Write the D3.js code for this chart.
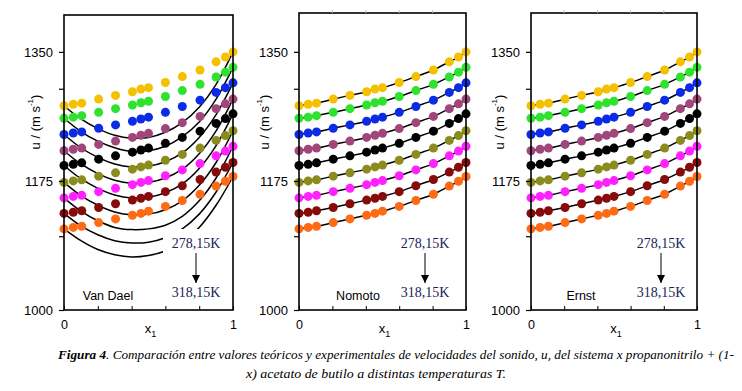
<!DOCTYPE html>
<html>
<head>
<meta charset="utf-8">
<script src="https://cdn.jsdelivr.net/npm/d3@7"></script>
<style>
  body { margin: 0; background: #fff; }
  svg { display: block; }
</style>
</head>
<body>
<div id="chart"></div>
<script>
// mole fraction x1 of the measured points
var xExp = [0, 0.055, 0.105, 0.205, 0.305, 0.405, 0.455, 0.5, 0.6, 0.7, 0.805, 0.9, 0.955, 1];

// temperatures, 278,15K (top) to 318,15K (bottom)
var temps = ["278,15", "283,15", "288,15", "293,15", "298,15", "303,15", "308,15", "313,15", "318,15"];
var colors = ["#f5c000", "#2ee22e", "#0b2be6", "#a0467a", "#000000", "#8c8c1e", "#ff22ff", "#860b0b", "#ff6a14"];

// experimental u / (m s-1)
var u278 = [1277, 1279, 1280.5, 1286, 1291, 1296, 1299.5, 1301.5, 1308.5, 1316.5, 1325.5, 1336.5, 1343, 1350];
var u283 = [1260, 1261.5, 1263.5, 1268, 1273, 1278, 1281, 1283, 1289.5, 1297.5, 1306, 1316, 1322.5, 1329];
var u288 = [1238, 1240, 1241.5, 1246.5, 1251, 1256, 1259, 1261.5, 1268, 1276, 1284.5, 1295, 1301.5, 1308];
var u293 = [1216, 1218, 1219.5, 1224.5, 1229, 1234, 1237, 1239.5, 1246, 1254, 1262.5, 1273, 1279.5, 1286];
var u298 = [1196, 1197.5, 1199.5, 1204.5, 1209, 1214, 1217, 1219.5, 1226, 1234, 1242.5, 1253, 1259.5, 1266];
var u303 = [1173, 1175, 1176.5, 1181.5, 1186, 1191, 1194, 1196.5, 1203, 1211, 1219.5, 1230, 1236.5, 1243];
var u308 = [1152, 1154, 1155.5, 1160.5, 1165, 1170, 1173, 1175.5, 1182, 1190, 1198.5, 1209, 1215.5, 1222];
var u313 = [1131, 1132.5, 1134.5, 1139, 1144, 1149, 1151.5, 1154, 1160.5, 1168.5, 1177, 1187, 1193.5, 1200];
var u318 = [1110, 1112, 1113.5, 1118.5, 1123.5, 1128.5, 1131, 1134, 1140.5, 1148.5, 1157, 1168, 1174.5, 1181];
var uExp = [u278, u283, u288, u293, u298, u303, u308, u313, u318];

// Van Dael theoretical curves
var xVD = [0, 0.1, 0.2, 0.3, 0.4, 0.5, 0.6, 0.7, 0.8, 0.9, 1];
var vd278 = [1277, 1259, 1246, 1237, 1233, 1234, 1241, 1254, 1275, 1306, 1350];
var vd283 = [1260, 1242, 1229, 1220, 1215, 1216, 1222, 1235, 1255, 1286, 1329];
var vd288 = [1238, 1220, 1207, 1198, 1194, 1195, 1201, 1213, 1234, 1265, 1308];
var vd293 = [1216, 1198, 1185, 1176, 1172, 1173, 1179, 1191, 1212, 1243, 1286];
var vd298 = [1196, 1178, 1165, 1156, 1152, 1153, 1159, 1171, 1192, 1223, 1266];
var vd303 = [1173, 1155, 1142, 1133, 1129, 1130, 1136, 1148, 1169, 1200, 1243];
var vd308 = [1152, 1134, 1121, 1112, 1109, 1110, 1115, 1127, 1148, 1179, 1222];
var vd313 = [1131, 1114, 1102, 1094, 1091, 1092, 1098, 1110, 1130, 1160, 1200];
var vd318 = [1110, 1094, 1082, 1075, 1072, 1074, 1080, 1092, 1112, 1142, 1181];
var uVD = [vd278, vd283, vd288, vd293, vd298, vd303, vd308, vd313, vd318];

var yTicks = [1000, 1100, 1175, 1300, 1350];
var yLabels = [1000, 1175, 1350];
var xTicks = [0, 0.2, 0.4, 0.6, 0.8, 1];

var panels = [
    {name: "Van Dael", left: 64, right: 233, top: 15, title: 35, nameX: 108, tempX: 196, model: "vd"},
    {name: "Nomoto", left: 299, right: 466, top: 13, title: 264, nameX: 358, tempX: 425, model: "exp"},
    {name: "Ernst", left: 531, right: 697, top: 13, title: 499, nameX: 581, tempX: 661, model: "exp"}
];

var sans = "Arial, 'Liberation Sans', sans-serif";
var serif = "'Times New Roman', 'Liberation Serif', serif";

var svg = d3.select("#chart")
    .append("svg")
    .attr("width", 742)
    .attr("height", 391);

var defs = svg.append("defs");
defs.append("marker")
    .attr("id", "arrow")
    .attr("viewBox", "0 0 10 10")
    .attr("refX", 10)
    .attr("refY", 5)
    .attr("markerWidth", 8)
    .attr("markerHeight", 8)
    .attr("markerUnits", "userSpaceOnUse")
    .attr("orient", "auto")
    .append("path")
    .attr("d", "M0,0 L10,5 L0,10 Z")
    .attr("fill", "#000");

var y = d3.scaleLinear().domain([1000, 1400]).range([310, 15]);

function drawPanel(p) {
    var x = d3.scaleLinear().domain([0, 1]).range([p.left, p.right]);
    var g = svg.append("g");

    var line = d3.line()
        .x(function (d) { return x(d[0]); })
        .y(function (d) { return y(d[1]); });

    if (p.model === "vd") {
        line.curve(d3.curveCatmullRom.alpha(0.5));
        uVD.forEach(function (s) {
            g.append("path")
                .attr("d", line(xVD.map(function (v, i) { return [v, s[i]]; })))
                .attr("fill", "none")
                .attr("stroke", "#000")
                .attr("stroke-width", 1.5);
        });
    } else {
        line.curve(d3.curveMonotoneX);
        uExp.forEach(function (s) {
            g.append("path")
                .attr("d", line(xExp.map(function (v, i) { return [v, s[i]]; })))
                .attr("fill", "none")
                .attr("stroke", "#000")
                .attr("stroke-width", 1.5);
        });
    }

    // white box behind the temperature labels
    g.append("rect")
        .attr("x", p.right - 70)
        .attr("y", 229)
        .attr("width", 70)
        .attr("height", 80)
        .attr("fill", "#fff");

    uExp.forEach(function (s, k) {
        g.selectAll(null)
            .data(xExp.map(function (v, i) { return [v, s[i]]; }))
            .enter()
            .append("circle")
            .attr("cx", function (d) { return x(d[0]); })
            .attr("cy", function (d) { return y(d[1]); })
            .attr("r", 4.5)
            .attr("fill", colors[k]);
    });

    // frame
    g.append("rect")
        .attr("x", p.left)
        .attr("y", p.top)
        .attr("width", p.right - p.left)
        .attr("height", 310 - p.top)
        .attr("fill", "none")
        .attr("stroke", "#000")
        .attr("stroke-width", 1.6);

    var yAxis = d3.axisLeft(y)
        .tickValues(yTicks)
        .tickSize(5)
        .tickSizeOuter(0)
        .tickPadding(6)
        .tickFormat(function (d) { return yLabels.indexOf(d) >= 0 ? d : ""; });

    var ya = g.append("g")
        .attr("transform", "translate(" + p.left + ",0)")
        .call(yAxis);
    ya.select(".domain").remove();
    ya.selectAll("line").attr("stroke-width", 1.2);
    ya.selectAll("text")
        .attr("font-family", sans)
        .attr("font-size", "13px")
        .attr("fill", "#000");

    var xAxis = d3.axisBottom(x)
        .tickValues(xTicks)
        .tickSize(-4)
        .tickSizeOuter(0)
        .tickPadding(10)
        .tickFormat(function (d) { return (d === 0 || d === 1) ? d : ""; });

    var xa = g.append("g")
        .attr("transform", "translate(0,310)")
        .call(xAxis);
    xa.select(".domain").remove();
    xa.selectAll("text")
        .attr("font-family", sans)
        .attr("font-size", "12.5px")
        .attr("fill", "#000");

    if (p.model !== "vd") {
        g.selectAll(null)
            .data(xTicks.slice(1, 5))
            .enter()
            .append("line")
            .attr("x1", function (d) { return x(d); })
            .attr("x2", function (d) { return x(d); })
            .attr("y1", p.top)
            .attr("y2", p.top - 3)
            .attr("stroke", "#bbb");
    }

    // axis titles
    var t = g.append("text")
        .attr("transform", "translate(" + p.title + ",122) rotate(-90)")
        .attr("text-anchor", "middle")
        .attr("dominant-baseline", "central")
        .attr("font-family", sans)
        .attr("font-size", "13px");
    t.append("tspan").text("u / (m s");
    t.append("tspan").attr("font-size", "8px").attr("dy", -5).text("-1");
    t.append("tspan").attr("dy", 5).text(")");

    var xt = g.append("text")
        .attr("x", (p.left + p.right) / 2 + 2)
        .attr("y", 333)
        .attr("text-anchor", "middle")
        .attr("font-family", sans)
        .attr("font-size", "13px");
    xt.append("tspan").text("x");
    xt.append("tspan").attr("font-size", "9px").attr("dy", 4).text("1");

    g.append("text")
        .attr("x", p.nameX)
        .attr("y", 300)
        .attr("text-anchor", "middle")
        .attr("font-family", sans)
        .attr("font-size", "12.5px")
        .text(p.name);

    // temperature direction
    g.append("text")
        .attr("x", p.tempX)
        .attr("y", 248)
        .attr("text-anchor", "middle")
        .attr("font-family", serif)
        .attr("font-size", "14px")
        .attr("fill", "#1b2358")
        .text(temps[0] + "K");

    g.append("line")
        .attr("x1", p.tempX)
        .attr("x2", p.tempX)
        .attr("y1", 253)
        .attr("y2", 283)
        .attr("stroke", "#000")
        .attr("stroke-width", 1)
        .attr("marker-end", "url(#arrow)");

    g.append("text")
        .attr("x", p.tempX)
        .attr("y", 297)
        .attr("text-anchor", "middle")
        .attr("font-family", serif)
        .attr("font-size", "14px")
        .attr("fill", "#1b2358")
        .text(temps[8] + "K");
}

panels.forEach(drawPanel);

// caption
var cap1 = svg.append("text")
    .attr("x", 58)
    .attr("y", 359)
    .attr("font-family", serif)
    .attr("font-style", "italic")
    .attr("font-size", "12.5px")
    .attr("textLength", 676)
    .attr("lengthAdjust", "spacingAndGlyphs");
cap1.append("tspan").attr("font-weight", "bold").text("Figura 4");
cap1.append("tspan").text(". Comparación entre valores teóricos y experimentales de velocidades del sonido, u, del sistema x propanonitrilo + (1-");

svg.append("text")
    .attr("x", 246)
    .attr("y", 378)
    .attr("font-family", serif)
    .attr("font-style", "italic")
    .attr("font-size", "12.5px")
    .attr("textLength", 260)
    .attr("lengthAdjust", "spacingAndGlyphs")
    .text("x) acetato de butilo a distintas temperaturas T.");
</script>
</body>
</html>
